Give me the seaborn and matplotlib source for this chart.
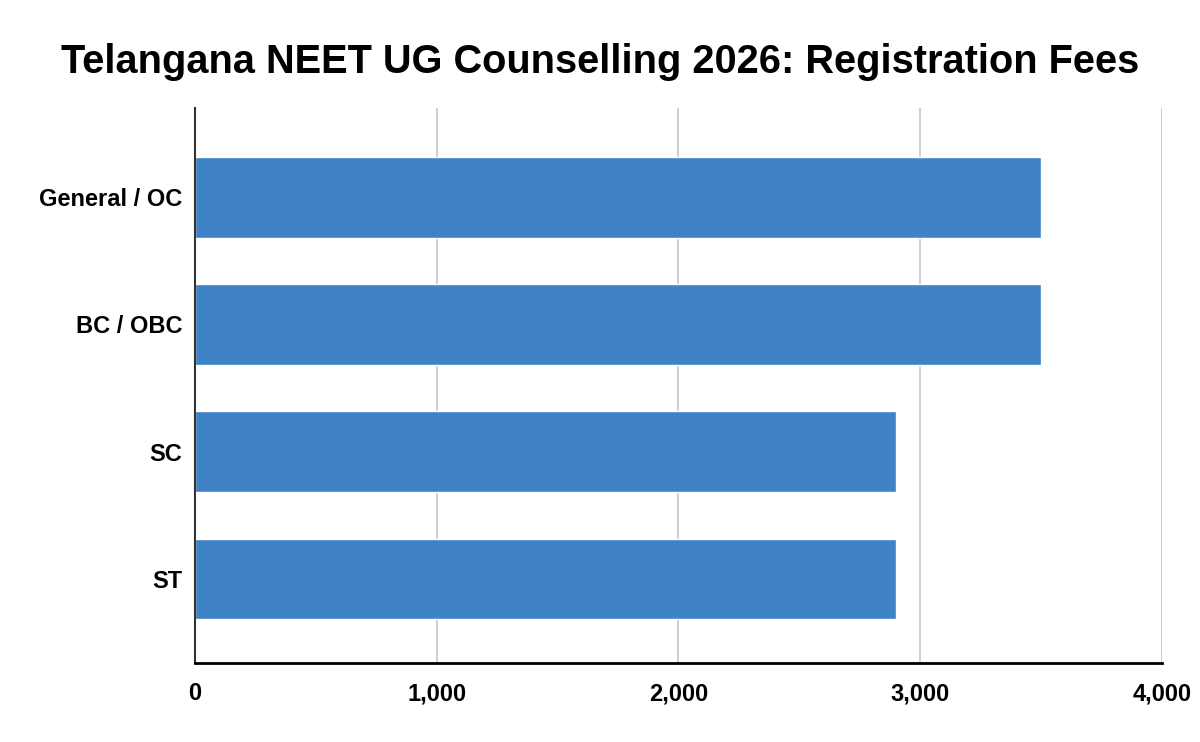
import matplotlib
matplotlib.use("Agg")
import matplotlib.pyplot as plt
import seaborn as sns
import pandas as pd

categories = ["General / OC", "BC / OBC", "SC", "ST"]
fees = [3500, 3500, 2900, 2900]
x_ticks = [0, 1000, 2000, 3000, 4000]
x_tick_labels = ["0", "1,000", "2,000", "3,000", "4,000"]

BAR_BLUE = "#3f83c6"

sns.set_theme(style="white")
plt.rcParams["font.family"] = ["Liberation Sans", "DejaVu Sans"]

df = pd.DataFrame({"category": categories, "fee": fees})

fig = plt.figure(figsize=(12, 7.42), dpi=100)
ax = fig.add_axes([0.1625, 0.1065, 0.8058, 0.7479])

sns.barplot(data=df, x="fee", y="category", color=BAR_BLUE, saturation=1,
            width=0.635, ax=ax, zorder=3)

ax.set_xlim(0, 4000)
ax.set_ylim(3.66, -0.70)
ax.set_xticks(x_ticks)
ax.set_xticklabels(x_tick_labels)
ax.set_xlabel("")
ax.set_ylabel("")

ax.grid(axis="x", color="#cccccc", linewidth=1.3, zorder=0)
ax.grid(axis="y", visible=False)
ax.set_axisbelow(True)

for side in ["top", "right"]:
    ax.spines[side].set_visible(False)
ax.spines["left"].set_color("#333333")
ax.spines["left"].set_linewidth(1.5)
ax.spines["bottom"].set_color("black")
ax.spines["bottom"].set_linewidth(2)
ax.spines["bottom"].set_zorder(5)
ax.spines["left"].set_zorder(5)

ax.tick_params(axis="both", length=0, labelsize=17, labelcolor="black")
ax.tick_params(axis="x", pad=14)
ax.tick_params(axis="y", pad=9)
for lbl in ax.get_xticklabels() + ax.get_yticklabels():
    lbl.set_fontweight("bold")

fig.suptitle("Telangana NEET UG Counselling 2026: Registration Fees",
             fontsize=28.6, fontweight="bold", color="black", y=0.942)

fig.savefig("out.png", dpi=100)
